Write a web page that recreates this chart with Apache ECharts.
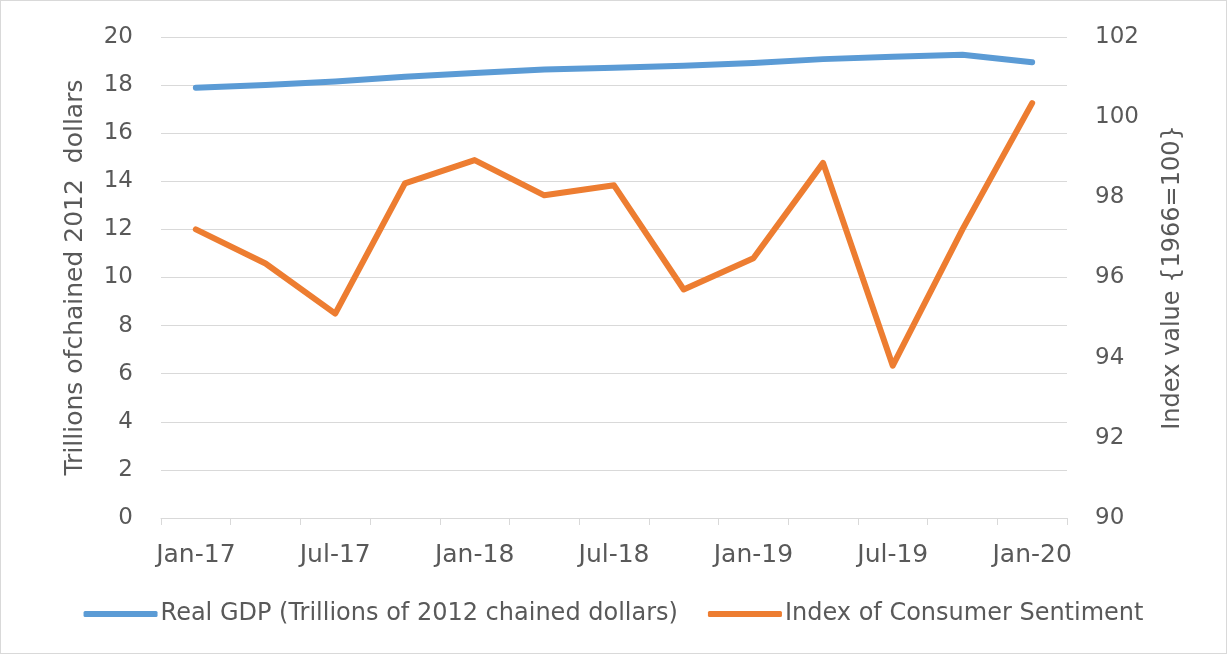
<!DOCTYPE html>
<html>
<head>
<meta charset="utf-8">
<title>Real GDP and Consumer Sentiment</title>
<script src="https://cdn.jsdelivr.net/npm/echarts@6/dist/echarts.min.js"></script>
<style>
  html, body { margin: 0; padding: 0; background: #ffffff; }
  #chart { width: 1227px; height: 654px; box-sizing: border-box; border: 1px solid #d9d9d9; }
</style>
</head>
<body>
<div id="chart"></div>
<script>
// Quarterly observations, Q1 2017 – Q1 2020
const quarters = ['Jan-17', 'Apr-17', 'Jul-17', 'Oct-17', 'Jan-18', 'Apr-18', 'Jul-18',
                  'Oct-18', 'Jan-19', 'Apr-19', 'Jul-19', 'Oct-19', 'Jan-20'];

// Real GDP, trillions of chained 2012 dollars
const realGdp = [17.89, 18.0, 18.15, 18.35, 18.5, 18.65, 18.72, 18.8, 18.92, 19.08, 19.18, 19.26, 18.95];

// Index of Consumer Sentiment (1966 = 100)
const sentiment = [97.2, 96.35, 95.1, 98.35, 98.93, 98.05, 98.3, 95.7, 96.48, 98.86, 93.8, 97.2, 100.35];

const gdpTicks = { min: 0, max: 20, interval: 2 };
const indexTicks = { min: 90, max: 102, interval: 2 };

const textColor = '#595959';
const gridColor = '#d9d9d9';
const font = 'DejaVu Sans';

const chart = echarts.init(document.getElementById('chart'), null, { renderer: 'canvas' });

chart.setOption({
  backgroundColor: '#ffffff',
  animation: false,
  textStyle: { fontFamily: font, color: textColor },
  grid: { left: 160, right: 159, top: 36, bottom: 135, containLabel: false },
  legend: {
    bottom: 22,
    left: 'center',
    itemWidth: 74,
    itemHeight: 6,
    itemGap: 30,
    icon: 'roundRect',
    textStyle: { fontFamily: font, fontSize: 24, color: textColor, padding: [0, 0, 0, -2] },
    data: ['Real GDP (Trillions of 2012 chained dollars)', 'Index of Consumer Sentiment']
  },
  xAxis: {
    type: 'category',
    data: quarters,
    boundaryGap: true,
    axisLine: { show: true, lineStyle: { color: gridColor, width: 1 } },
    axisTick: { show: true, interval: 0, length: 7, lineStyle: { color: gridColor } },
    axisLabel: { interval: 1, fontSize: 25, color: textColor, margin: 25, fontFamily: font },
    splitLine: { show: false }
  },
  yAxis: [
    {
      type: 'value',
      min: gdpTicks.min, max: gdpTicks.max, interval: gdpTicks.interval,
      name: 'Trillions ofchained 2012  dollars',
      nameLocation: 'middle',
      nameGap: 73,
      nameTextStyle: { fontSize: 25, color: textColor, fontFamily: font },
      axisLine: { show: false },
      axisTick: { show: false },
      axisLabel: { fontSize: 23, color: textColor, margin: 28, fontFamily: font },
      splitLine: { show: true, lineStyle: { color: gridColor, width: 1 } }
    },
    {
      type: 'value',
      min: indexTicks.min, max: indexTicks.max, interval: indexTicks.interval,
      name: 'Index value {1966=100}',
      nameLocation: 'middle',
      nameGap: 94,
      nameRotate: 90,
      nameTextStyle: { fontSize: 24, color: textColor, fontFamily: font },
      axisLine: { show: false },
      axisTick: { show: false },
      axisLabel: { fontSize: 23, color: textColor, margin: 28, fontFamily: font },
      splitLine: { show: false }
    }
  ],
  series: [
    {
      name: 'Real GDP (Trillions of 2012 chained dollars)',
      type: 'line',
      yAxisIndex: 0,
      data: realGdp,
      showSymbol: false,
      symbol: 'none',
      lineStyle: { color: '#5b9bd5', width: 6, cap: 'round', join: 'round' },
      itemStyle: { color: '#5b9bd5' }
    },
    {
      name: 'Index of Consumer Sentiment',
      type: 'line',
      yAxisIndex: 1,
      data: sentiment,
      showSymbol: false,
      symbol: 'none',
      lineStyle: { color: '#ed7d31', width: 6, cap: 'round', join: 'round' },
      itemStyle: { color: '#ed7d31' }
    }
  ]
});
</script>
</body>
</html>
